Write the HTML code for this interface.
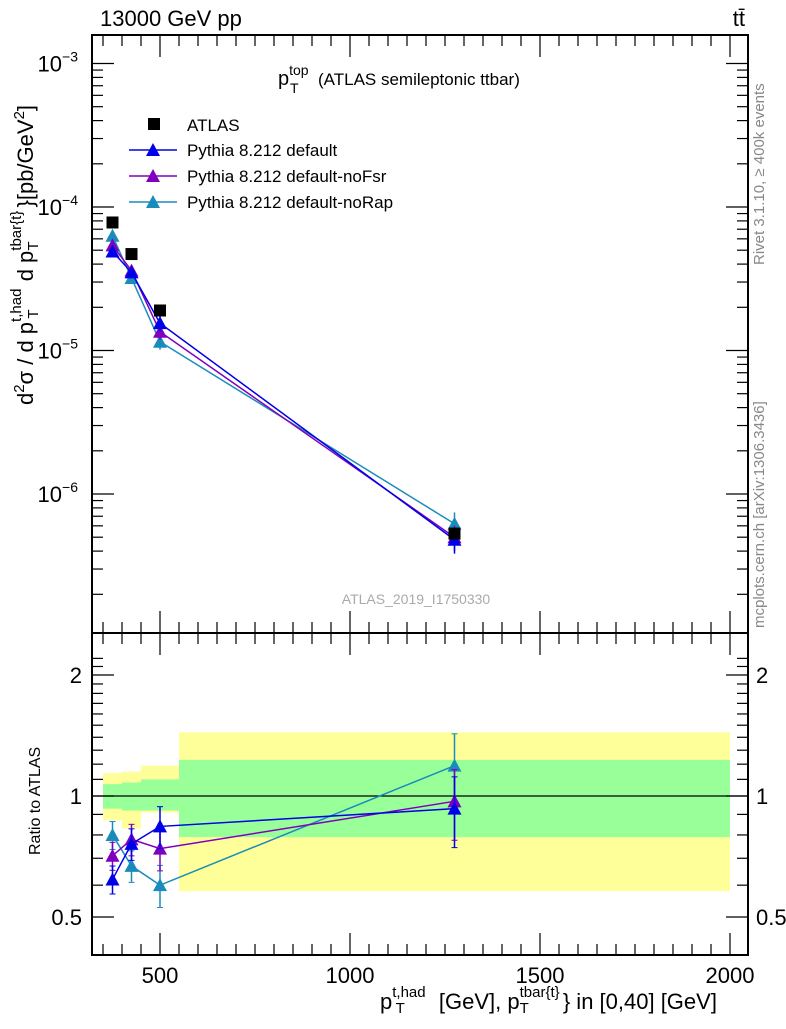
<!DOCTYPE html>
<html><head><meta charset="utf-8"><style>
body{margin:0;background:#fff;width:786px;height:1024px;overflow:hidden}
svg{font-family:"Liberation Sans",sans-serif}
</style></head><body>
<svg id="c" width="786" height="1024" xmlns="http://www.w3.org/2000/svg"></svg>
<script>
const binEdges=[350,400,450,550,2000];
const xPts=[375,425,500,1275];
const atlas=[7.8e-5,4.7e-5,1.9e-5,5.3e-7];
const mBlue=[4.9e-5,3.5e-5,1.55e-5,4.8e-7];
const mPurple=[5.4e-5,3.6e-5,1.35e-5,5.0e-7];
const mTeal=[6.3e-5,3.2e-5,1.15e-5,6.2e-7];
const rBlue=[0.62,0.76,0.84,0.93];
const rPurple=[0.71,0.78,0.74,0.97];
const rTeal=[0.80,0.67,0.60,1.19];
const rErr=[0.08,0.09,0.12,0.2];
const yelUp=[1.14,1.15,1.19,1.44];
const yelDn=[0.87,0.83,0.91,0.58];
const grnUp=[1.07,1.08,1.10,1.23];
const grnDn=[0.93,0.92,0.92,0.79];
const xTicks=[500,1000,1500,2000];
const NS="http://www.w3.org/2000/svg";
const svg=document.getElementById('c');
const L=92,R=748,T=35,MB=633,RB=955;
const X=v=>160+(v-500)*0.38;
const Y=v=>494-143.5*(Math.log10(v)+6);
const YR=r=>796-121*Math.log2(r);
function el(t,a,p){const e=document.createElementNS(NS,t);for(const k in a)e.setAttribute(k,a[k]);(p||svg).appendChild(e);return e;}
function txt(x,y,s,a){const e=el('text',Object.assign({x:x,y:y,'font-size':20},a||{}));e.innerHTML=s;return e;}
for(let i=0;i<4;i++){
 const b=el('rect',{x:X(binEdges[i]),y:YR(yelUp[i]),width:X(binEdges[i+1])-X(binEdges[i]),height:YR(yelDn[i])-YR(yelUp[i]),fill:'#ffff99'});
 
 const g=el('rect',{x:X(binEdges[i]),y:YR(grnUp[i]),width:X(binEdges[i+1])-X(binEdges[i]),height:YR(grnDn[i])-YR(grnUp[i]),fill:'#99ff99'});
 
}
el('line',{x1:L,x2:R,y1:YR(1),y2:YR(1),stroke:'#000','stroke-width':1.3});
el('rect',{x:L,y:T,width:R-L,height:MB-T,fill:'none',stroke:'#000','stroke-width':2});
el('rect',{x:L,y:MB,width:R-L,height:RB-MB,fill:'none',stroke:'#000','stroke-width':2});
for(let d=-7;d<=-3;d++){for(let m=1;m<10;m++){const v=m*Math.pow(10,d);const y=Y(v);if(y<T||y>MB)continue;const len=m==1?22:11;
 el('line',{x1:L,x2:L+len,y1:y,y2:y,stroke:'#000','stroke-width':1.2});el('line',{x1:R,x2:R-len,y1:y,y2:y,stroke:'#000','stroke-width':1.2});
 if(m==1){const t=txt(L-14,y+8,'10<tspan dy="-10" font-size="14">−'+(-d)+'</tspan>',{'text-anchor':'end','font-size':22});}}}
for(let r=0.5;r<=2.3;r+=0.1){const y=YR(r);if(y<MB||y>RB)continue;const big=Math.abs(r-0.5)<1e-6||Math.abs(r-1)<1e-6||Math.abs(r-2)<1e-6;const len=big?22:11;
 el('line',{x1:L,x2:L+len,y1:y,y2:y,stroke:'#000','stroke-width':1.2});el('line',{x1:R,x2:R-len,y1:y,y2:y,stroke:'#000','stroke-width':1.2});}
[[0.5,'0.5'],[1,'1'],[2,'2']].forEach(([r,s])=>{txt(L-10,YR(r)+8,s,{'text-anchor':'end','font-size':22});txt(R+8,YR(r)+8,s,{'font-size':22});});
for(let v=350;v<=2050;v+=50){const x=X(v);if(x<L||x>R)continue;const big=v%500==0;const len=big?22:11;
 el('line',{x1:x,x2:x,y1:RB,y2:RB-len,stroke:'#000','stroke-width':1.2});el('line',{x1:x,x2:x,y1:MB,y2:MB-len,stroke:'#000','stroke-width':1.2});
 el('line',{x1:x,x2:x,y1:T,y2:T+len,stroke:'#000','stroke-width':1.2});el('line',{x1:x,x2:x,y1:MB,y2:MB+len,stroke:'#000','stroke-width':1.2});}
xTicks.forEach(v=>{const t=txt(X(v),983,v,{'text-anchor':'middle','font-size':22});});
function tri(x,y,c){el('polygon',{points:`${x-7},${y+6} ${x+7},${y+6} ${x},${y-7}`,fill:c});}
function series(main,ratio,c,name){
 const p1=main.map((v,i)=>X(xPts[i])+','+Y(v)).join(' ');
 const l=el('polyline',{points:p1,fill:'none',stroke:c,'stroke-width':1.5});
 main.forEach((v,i)=>{const x=X(xPts[i]);const e=rErr[i];el('line',{x1:x,x2:x,y1:Y(v*(1+e)),y2:Y(v*(1-e)),stroke:c,'stroke-width':1.5});tri(x,Y(v),c);});
 const p2=ratio.map((r,i)=>X(xPts[i])+','+YR(r)).join(' ');
 const l2=el('polyline',{points:p2,fill:'none',stroke:c,'stroke-width':1.5});
 ratio.forEach((r,i)=>{const x=X(xPts[i]);const e=rErr[i]*r;el('line',{x1:x,x2:x,y1:YR(r+e),y2:YR(r-e),stroke:c,'stroke-width':1.5});
  el('line',{x1:x-3,x2:x+3,y1:YR(r+e),y2:YR(r+e),stroke:c});el('line',{x1:x-3,x2:x+3,y1:YR(r-e),y2:YR(r-e),stroke:c});tri(x,YR(r),c);});
}
series(mTeal,rTeal,'#1a8cbb','noRap');
series(mPurple,rPurple,'#8000bf','noFsr');
series(mBlue,rBlue,'#0000e6','default');
atlas.forEach((v,i)=>{const r=el('rect',{x:X(xPts[i])-6,y:Y(v)-6,width:12,height:12,fill:'#000'});});
el('rect',{x:148,y:118,width:12,height:12,fill:'#000'});
txt(187,131,'ATLAS',{'font-size':17});
[['#0000e6','Pythia 8.212 default',150],['#8000bf','Pythia 8.212 default-noFsr',176],['#1a8cbb','Pythia 8.212 default-noRap',202]].forEach(([c,s,y])=>{
 el('line',{x1:129,x2:177,y1:y,y2:y,stroke:c,'stroke-width':1.5});tri(153,y,c);const t=txt(187,y+6,s,{'font-size':17});});
</script>
<svg width="786" height="1024" style="position:absolute;left:0;top:0" xmlns="http://www.w3.org/2000/svg">
<text x="100" y="26" font-size="22" font-family="Liberation Sans">13000 GeV pp</text>
<text x="745" y="26" font-size="22" font-family="Liberation Sans" text-anchor="end">tt̄</text>
<text x="278" y="85" font-size="20" font-family="Liberation Sans">p<tspan dy="-10" font-size="14">top</tspan><tspan x="290" dy="18" font-size="14">T</tspan><tspan x="318" dy="-8" font-size="17">(ATLAS semileptonic ttbar)</tspan></text>
<text x="416" y="604" font-size="14" fill="#aaa" text-anchor="middle" font-family="Liberation Sans">ATLAS_2019_I1750330</text>
<text transform="translate(764,265) rotate(-90)" font-size="15" fill="#888" font-family="Liberation Sans">Rivet 3.1.10, ≥ 400k events</text>
<text transform="translate(764,628) rotate(-90)" font-size="15" fill="#888" font-family="Liberation Sans">mcplots.cern.ch [arXiv:1306.3436]</text>
<text transform="translate(33,255) rotate(-90)" text-anchor="middle" font-size="22" font-family="Liberation Sans">d<tspan font-size="15" dy="-9">2</tspan><tspan dy="9">σ / d p</tspan><tspan font-size="15" dy="-12">t,had</tspan><tspan font-size="15" dx="-30" dy="17">T</tspan><tspan dx="22" dy="-5"> d p</tspan><tspan font-size="15" dy="-12">tbar{t}</tspan><tspan font-size="15" dx="-40" dy="17">T</tspan><tspan dx="34" dy="-5">}[pb/GeV</tspan><tspan font-size="15" dy="-9">2</tspan><tspan dy="9">]</tspan></text>
<text transform="translate(40,855) rotate(-90)" font-size="16" font-family="Liberation Sans">Ratio to ATLAS</text>
<text x="380" y="1009" font-size="22" font-family="Liberation Sans">p<tspan font-size="15" dy="-12">t,had</tspan><tspan font-size="15" dx="-30" dy="16">T</tspan><tspan dx="28" dy="-4"> [GeV], p</tspan><tspan font-size="15" dy="-12">tbar{t}</tspan><tspan font-size="15" dx="-40" dy="16">T</tspan><tspan dx="34" dy="-4">} in [0,40] [GeV]</tspan></text>
</svg>
</body></html>
